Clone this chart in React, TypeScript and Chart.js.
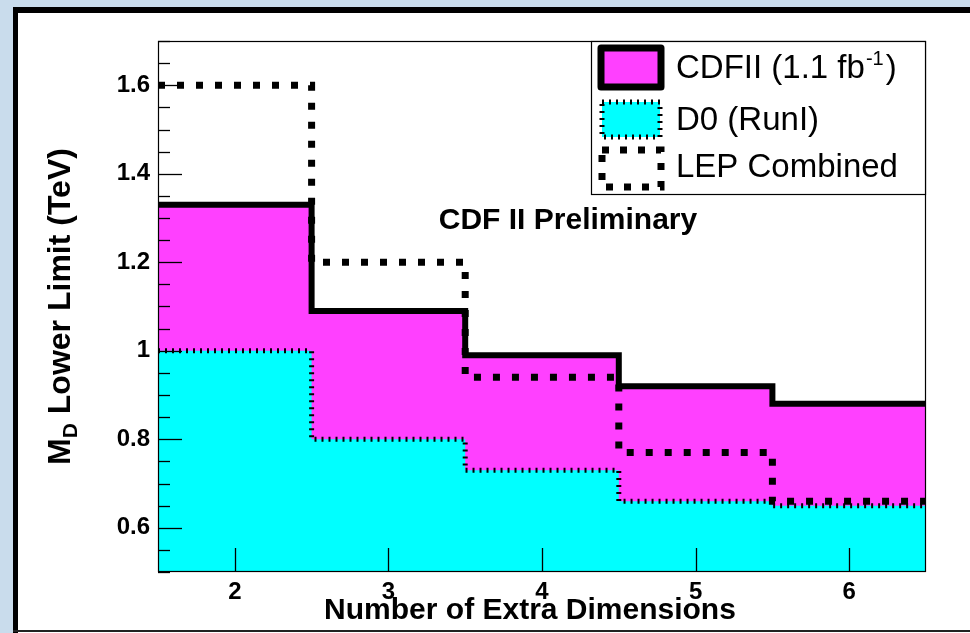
import React, { useEffect, useRef } from "react";
import { Chart, registerables } from "chart.js";

Chart.register(...registerables);

// ---- data ----
const dimensions = [2, 3, 4, 5, 6];
const cdfLimits = [1.33, 1.09, 0.99, 0.92, 0.88];
const d0Limits = [1.0, 0.8, 0.73, 0.66, 0.65];
const lepLimits = [1.6, 1.2, 0.94, 0.77, 0.66];
const xTickLabels = ["2", "3", "4", "5", "6"];
const yTickValues = [0.6, 0.8, 1.0, 1.2, 1.4, 1.6];
const yTickLabels = ["0.6", "0.8", "1", "1.2", "1.4", "1.6"];
const seriesNames = ["CDFII (1.1 fb", "D0 (RunI)", "LEP Combined"];
const cdfSuperscript = "-1";
const xTitle = "Number of Extra Dimensions";
const yTitleMain = "M";
const yTitleSub = "D";
const yTitleRest = " Lower Limit (TeV)";
const annotation = "CDF II Preliminary";

const FONT = "'Liberation Sans', Arial, Helvetica, sans-serif";
const MAGENTA = "#ff40ff";
const CYAN = "#00ffff";

function stepData(values: number[]) {
  const pts = dimensions.map((d, i) => ({ x: d - 0.5, y: values[i] }));
  pts.push({ x: dimensions[dimensions.length - 1] + 0.5, y: values[values.length - 1] });
  return pts;
}

const axisDecor = {
  id: "axisDecor",
  afterDatasetsDraw(chart: any) {
    const { ctx, chartArea: a, scales } = chart;
    const x = scales.x;
    const y = scales.y;
    ctx.save();
    ctx.strokeStyle = "#000";
    ctx.lineWidth = 1.3;
    ctx.setLineDash([]);
    const line = (x1: number, y1: number, x2: number, y2: number) => {
      ctx.beginPath();
      ctx.moveTo(x1, y1);
      ctx.lineTo(x2, y2);
      ctx.stroke();
    };
    for (let k = 0; k < 200; k++) {
      const v = y.min + k * 0.05;
      if (v > y.max + 1e-9) break;
      const major = yTickValues.some((t) => Math.abs(t - v) < 1e-6);
      const py = Math.round(y.getPixelForValue(v)) + 0.5;
      line(a.left, py, a.left + (major ? 24 : 12), py);
    }
    for (const d of dimensions) {
      const px = Math.round(x.getPixelForValue(d)) + 0.5;
      line(px, a.bottom, px, a.bottom - 24);
    }
    ctx.lineWidth = 1.2;
    ctx.strokeRect(a.left + 0.5, a.top + 0.5, a.right - a.left - 1, a.bottom - a.top - 1);
    ctx.restore();
  },
};

const textDecor = {
  id: "textDecor",
  afterDraw(chart: any) {
    const { ctx, chartArea: a } = chart;
    ctx.save();
    ctx.fillStyle = "#000";

    // X title
    ctx.font = `bold 30px ${FONT}`;
    ctx.textAlign = "center";
    ctx.textBaseline = "alphabetic";
    ctx.fillText(xTitle, (a.left + a.right) / 2 - 12, a.bottom + 47);

    // Y title (rotated, with subscript)
    const big = `bold 32px ${FONT}`;
    const small = `bold 21px ${FONT}`;
    ctx.font = big;
    const wM = ctx.measureText(yTitleMain).width;
    const wR = ctx.measureText(yTitleRest).width;
    ctx.font = small;
    const wD = ctx.measureText(yTitleSub).width;
    const W = wM + wD + wR;
    ctx.translate(70, (a.top + a.bottom) / 2);
    ctx.rotate(-Math.PI / 2);
    ctx.textAlign = "left";
    let cx = -W / 2;
    ctx.font = big;
    ctx.fillText(yTitleMain, cx, 0);
    cx += wM;
    ctx.font = small;
    ctx.fillText(yTitleSub, cx, 7);
    cx += wD;
    ctx.font = big;
    ctx.fillText(yTitleRest, cx, 0);
    ctx.setTransform(1, 0, 0, 1, 0, 0);

    // annotation
    ctx.font = `bold 30px ${FONT}`;
    ctx.textAlign = "center";
    ctx.fillText(annotation, a.left + 410, a.top + 188);

    // legend
    const L = a.right - 335;
    const T = a.top;
    const R = a.right;
    const B = a.top + 154;
    ctx.fillStyle = "#fff";
    ctx.fillRect(L, T, R - L, B - T);
    ctx.strokeStyle = "#000";
    ctx.lineWidth = 1.2;
    ctx.strokeRect(L + 0.5, T + 0.5, R - L - 1, B - T - 1);

    const sx = L + 10;
    // CDF swatch
    ctx.lineJoin = "round";
    ctx.fillStyle = MAGENTA;
    ctx.fillRect(sx, T + 7, 60, 39);
    ctx.lineWidth = 7;
    ctx.strokeStyle = "#000";
    ctx.strokeRect(sx, T + 7, 60, 39);
    // D0 swatch
    ctx.fillStyle = CYAN;
    ctx.fillRect(sx + 1, T + 61, 58, 35);
    ctx.lineWidth = 5;
    ctx.lineJoin = "miter";
    ctx.setLineDash([2, 5]);
    ctx.strokeRect(sx + 1, T + 61, 58, 35);
    // LEP swatch
    ctx.lineWidth = 7;
    ctx.setLineDash([7, 11]);
    ctx.strokeRect(sx + 1, T + 109, 59, 37);
    ctx.setLineDash([]);

    // legend texts
    ctx.fillStyle = "#000";
    ctx.textAlign = "left";
    ctx.textBaseline = "alphabetic";
    const tx = L + 85;
    ctx.font = `33px ${FONT}`;
    ctx.fillText(seriesNames[0], tx, T + 37);
    const w0 = ctx.measureText(seriesNames[0]).width;
    ctx.font = `20px ${FONT}`;
    ctx.fillText(cdfSuperscript, tx + w0 + 1, T + 24);
    const ws = ctx.measureText(cdfSuperscript).width;
    ctx.font = `33px ${FONT}`;
    ctx.fillText(")", tx + w0 + ws + 3, T + 37);
    ctx.fillText(seriesNames[1], tx, T + 89);
    ctx.fillText(seriesNames[2], tx, T + 136);
    ctx.restore();
  },
};

export default function App() {
  const ref = useRef<HTMLCanvasElement | null>(null);
  useEffect(() => {
    if (!ref.current) return;
    const chart = new Chart(ref.current, {
      type: "line",
      data: {
        datasets: [
          {
            label: seriesNames[2],
            data: stepData(lepLimits),
            stepped: "before",
            borderColor: "#000",
            borderWidth: 7,
            borderDash: [7, 12],
            borderCapStyle: "butt",
            fill: false,
            pointRadius: 0,
            order: 1,
          },
          {
            label: seriesNames[1],
            data: stepData(d0Limits),
            stepped: "before",
            borderColor: "#000",
            borderWidth: 5,
            borderDash: [2, 5],
            borderCapStyle: "butt",
            backgroundColor: CYAN,
            fill: "start",
            pointRadius: 0,
            order: 2,
          },
          {
            label: seriesNames[0],
            data: stepData(cdfLimits),
            stepped: "before",
            borderColor: "#000",
            borderWidth: 6,
            borderJoinStyle: "miter",
            backgroundColor: MAGENTA,
            fill: "start",
            pointRadius: 0,
            order: 3,
          },
        ],
      } as any,
      options: {
        animation: false,
        responsive: false,
        events: [],
        layout: { padding: { top: 41, right: 44, left: 0, bottom: 0 } },
        plugins: { legend: { display: false }, tooltip: { enabled: false } },
        scales: {
          x: {
            type: "linear",
            min: 1.5,
            max: 6.5,
            grid: { display: false, drawTicks: false },
            border: { display: false },
            afterBuildTicks: (s: any) => {
              s.ticks = dimensions.map((v) => ({ value: v }));
            },
            afterFit: (s: any) => {
              s.height = 61;
            },
            ticks: {
              autoSkip: false,
              maxRotation: 0,
              padding: 6,
              color: "#000",
              font: { family: FONT, size: 24, weight: "bold" },
              callback: (_v: any, i: number) => xTickLabels[i],
            },
          },
          y: {
            type: "linear",
            min: 0.5,
            max: 1.7,
            grid: { display: false, drawTicks: false },
            border: { display: false },
            afterBuildTicks: (s: any) => {
              s.ticks = yTickValues.map((v) => ({ value: v }));
            },
            afterFit: (s: any) => {
              s.width = 158;
            },
            ticks: {
              autoSkip: false,
              padding: 8,
              color: "#000",
              font: { family: FONT, size: 24, weight: "bold" },
              callback: (_v: any, i: number) => yTickLabels[i],
            },
          },
        },
      } as any,
      plugins: [axisDecor, textDecor],
    });
    return () => chart.destroy();
  }, []);

  const box = (s: any) => <div style={{ position: "absolute", ...s }} />;

  return (
    <div
      style={{
        position: "fixed",
        left: 0,
        top: 0,
        width: 970,
        height: 633,
        background: "#fff",
        overflow: "hidden",
      }}
    >
      {box({ left: 0, top: 0, width: 13, height: 633, background: "#c9dcec" })}
      {box({ left: 0, top: 0, width: 970, height: 7, background: "#c9dcec" })}
      {box({ left: 13, top: 7, width: 5, height: 626, background: "#000" })}
      {box({ left: 13, top: 7, width: 957, height: 6, background: "#000" })}
      {box({ left: 13, top: 630, width: 957, height: 2, background: "#222" })}
      <canvas
        ref={ref}
        width={970}
        height={633}
        style={{ position: "absolute", left: 0, top: 0, width: 970, height: 633 }}
      />
    </div>
  );
}
